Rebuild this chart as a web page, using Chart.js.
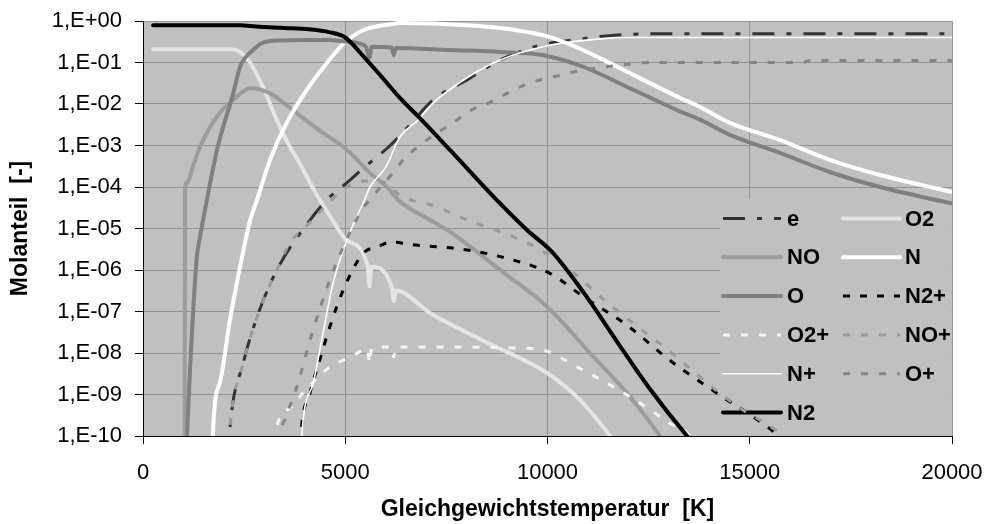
<!DOCTYPE html>
<html><head><meta charset="utf-8">
<script src="https://cdn.jsdelivr.net/npm/chart.js@4.4.0/dist/chart.umd.min.js"></script>
<style>html,body{margin:0;padding:0;background:#fff;}</style>
</head><body>
<canvas id="c" width="988" height="524"></canvas>
<script>
// ---- data (temperature K, mole fraction) ----
const xTicks = [0, 5000, 10000, 15000, 20000];
const yTicks = [1, 1e-1, 1e-2, 1e-3, 1e-4, 1e-5, 1e-6, 1e-7, 1e-8, 1e-9, 1e-10];
const yTickLabels = ['1,E+00','1,E-01','1,E-02','1,E-03','1,E-04','1,E-05','1,E-06','1,E-07','1,E-08','1,E-09','1,E-10'];
const xTitle = 'Gleichgewichtstemperatur  [K]';
const yTitle = 'Molanteil  [-]';

const e = [[2100,2.5e-11],[2150,1.6e-10],[2480,5.8e-9],[2820,7.4e-8],[3310,1.0e-6],[4130,1.6e-5],[4620,5.8e-5],[5040,1.26e-4],[5440,2.8e-4],[6110,1.0e-3],[6550,2.8e-3],[7170,1.26e-2],[8010,3.8e-2],[8830,1.15e-1],[9810,2.6e-1],[10630,3.5e-1],[11720,4.6e-1],[12530,4.9e-1],[20000,4.9e-1]];
const O2 = [[250,2.1e-1],[2200,2.1e-1],[2400,1.8e-1],[2650,1.0e-1],[2970,2.5e-2],[3310,4.1e-3],[3630,9.3e-4],[3800,5.0e-4],[4300,6.3e-5],[4620,2.0e-5],[5040,5.2e-6],[5550,1.3e-6],[5600,4.0e-7],[5650,1.2e-6],[6150,3.8e-7],[6200,1.8e-7],[6250,3.2e-7],[7100,9.1e-8],[8400,2.0e-8],[9990,3.3e-9],[10800,7.4e-10],[11550,1.0e-10],[12000,2.5e-11]];
const NO = [[1030,2.5e-11],[1040,1.0e-4],[1090,1.3e-4],[1240,3.2e-4],[1410,9.3e-4],[1830,5.0e-3],[2230,1.26e-2],[2650,2.4e-2],[3140,1.8e-2],[3800,6.0e-3],[4450,2.0e-3],[5040,7.9e-4],[5610,2.2e-4],[6030,1.0e-4],[6350,4.5e-5],[7100,1.6e-5],[7590,8.3e-6],[8830,1.0e-6],[9990,1.3e-7],[11050,1.0e-8],[11960,1.1e-9],[12780,1.0e-10],[13200,2.5e-11]];
const N = [[1720,2.5e-11],[1730,1.2e-10],[1900,1.9e-9],[2150,6.3e-8],[2400,1.2e-6],[2650,1.6e-5],[2820,4.9e-5],[3140,4.5e-4],[3550,3.5e-3],[4050,2.2e-2],[4550,9.8e-2],[4950,2.8e-1],[5440,6.0e-1],[6180,8.5e-1],[6350,8.9e-1],[8010,7.9e-1],[9240,6.0e-1],[10060,4.1e-1],[10880,2.0e-1],[11720,7.9e-2],[13280,1.4e-2],[13770,8.5e-3],[14510,3.5e-3],[15750,1.35e-3],[16980,4.5e-4],[18220,1.95e-4],[20000,7.6e-5]];
const O = [[1070,2.5e-11],[1090,1.0e-10],[1200,2.0e-8],[1330,2.0e-6],[1410,6.3e-6],[1580,4.9e-5],[1830,7.9e-4],[2230,1.8e-2],[2400,7.9e-2],[2720,2.0e-1],[2970,3.0e-1],[3400,3.4e-1],[4000,3.5e-1],[4600,3.5e-1],[5000,3.2e-1],[5500,2.5e-1],[5600,1.3e-1],[5650,2.4e-1],[6150,2.3e-1],[6200,1.5e-1],[6250,2.25e-1],[7590,2.0e-1],[8830,1.8e-1],[9900,1.5e-1],[10880,7.9e-2],[12120,2.2e-2],[13280,6.6e-3],[13770,4.2e-3],[14510,1.8e-3],[15750,6.6e-4],[16980,2.3e-4],[18220,1.0e-4],[20000,4.0e-5]];
const N2p = [[3870,2.5e-11],[3900,1.0e-10],[4130,1.1e-9],[4370,6.8e-9],[4620,4.3e-8],[4950,3.3e-7],[5440,2.5e-6],[5780,3.6e-6],[6180,4.8e-6],[6520,4.2e-6],[7840,3.2e-6],[8830,2.1e-6],[10060,8.3e-7],[10880,2.3e-7],[11960,4.7e-8],[12950,7.6e-9],[13350,3.9e-9],[14440,7.4e-10],[15180,2.5e-10],[15700,1.0e-10],[16000,4.0e-11]];
const O2p = [[3280,2.5e-11],[3310,1.6e-10],[3580,4.3e-10],[3960,1.1e-9],[4620,4.6e-9],[5120,7.9e-9],[5550,1.25e-8],[5600,5.6e-9],[5650,1.3e-8],[6150,1.4e-8],[6200,7.9e-9],[6250,1.4e-8],[9500,1.3e-8],[9990,1.1e-8],[10730,4.6e-9],[11550,1.7e-9],[12360,5.6e-10],[13030,2.0e-10],[13450,1.2e-10],[13800,4.0e-11]];
const NOp = [[2100,2.5e-11],[2150,1.6e-10],[2480,5.8e-9],[2820,7.4e-8],[3310,1.0e-6],[3630,4.4e-6],[4130,1.4e-5],[4620,4.5e-5],[5040,1.0e-4],[5500,1.4e-4],[6000,1.26e-4],[6350,6.3e-5],[7200,3.5e-5],[8130,1.45e-5],[9070,6.9e-6],[9890,2.8e-6],[10630,8.9e-7],[11300,2.3e-7],[12120,5.2e-8],[13030,1.07e-8],[14090,1.45e-9],[14820,4.3e-10],[15550,1.6e-10],[15800,1.0e-10],[16100,3.2e-11]];
const Np = [[3900,2.5e-11],[3930,1.2e-10],[4210,1.9e-9],[4450,3.0e-8],[4700,4.9e-7],[5040,5.2e-6],[5290,2.0e-5],[5440,4.0e-5],[5610,1.0e-4],[6000,3.0e-4],[6350,1.6e-3],[6800,4.1e-3],[7170,1.05e-2],[8010,4.3e-2],[8830,1.15e-1],[10060,2.6e-1],[11300,3.7e-1],[12120,4.0e-1],[20000,4.0e-1]];
const Op = [[3370,2.5e-11],[3400,1.0e-10],[3510,2.5e-10],[3800,1.5e-9],[4180,3.0e-8],[4620,5.8e-7],[4950,3.6e-6],[5410,2.8e-5],[5610,5.0e-5],[6180,2.2e-4],[6430,4.5e-4],[6800,9.3e-4],[7270,2.0e-3],[7700,3.7e-3],[8130,7.2e-3],[8580,1.1e-2],[9000,1.8e-2],[9440,2.9e-2],[9890,4.0e-2],[10350,5.0e-2],[10750,6.3e-2],[11220,7.4e-2],[11620,8.3e-2],[12040,9.1e-2],[12500,1.0e-1],[16300,1.0e-1],[16500,1.12e-1],[20000,1.12e-1]];
const N2 = [[250,7.9e-1],[2400,7.9e-1],[2800,7.4e-1],[3500,6.8e-1],[4100,6.3e-1],[4600,5.4e-1],[5000,4.0e-1],[5400,1.6e-1],[5900,4.5e-2],[6350,1.4e-2],[6850,4.5e-3],[7600,7.6e-4],[8700,5.4e-5],[9500,9.1e-6],[10100,2.8e-6],[10900,2.8e-7],[11700,2.0e-8],[12500,1.5e-9],[13450,1.0e-10],[14000,2.5e-11]];

const seriesNames = ['e','O2','NO','N','O','N2+','O2+','NO+','N+','O+','N2'];
const seriesData  = [e, O2, NO, N, O, N2p, O2p, NOp, Np, Op, N2];
const legendCols = [['e','NO','O','O2+','N+','N2'], ['O2','N','N2+','NO+','O+']];

// ---- styles ----
const styles = {
  'e':   {c:'#333333', w:3,   d:[22,12,5,12]},
  'O2':  {c:'#e4e4e4', w:4,   d:[]},
  'NO':  {c:'#9c9c9c', w:4,   d:[]},
  'N':   {c:'#ffffff', w:4,   d:[]},
  'O':   {c:'#808080', w:4,   d:[]},
  'N2+': {c:'#000000', w:3,   d:[7,10]},
  'O2+': {c:'#f4f4f4', w:3,   d:[7,11]},
  'NO+': {c:'#9a9a9a', w:3,   d:[7,11]},
  'N+':  {c:'#ffffff', w:1.6, d:[]},
  'O+':  {c:'#858585', w:3,   d:[7,11]},
  'N2':  {c:'#000000', w:4,   d:[]}
};
const FONT = '"Liberation Sans", Arial, sans-serif';

const datasets = seriesNames.map((name, i) => ({
  label: name,
  data: seriesData[i].map(p => ({x: p[0], y: p[1]})),
  borderColor: styles[name].c,
  backgroundColor: styles[name].c,
  borderWidth: styles[name].w,
  borderDash: styles[name].d,
  borderCapStyle: styles[name].d.length ? 'butt' : 'round',
  borderJoinStyle: 'round',
  pointRadius: 0,
  fill: false,
  cubicInterpolationMode: 'monotone',
  order: seriesNames.length - i
}));

const plotBg = {
  id: 'plotBg',
  beforeDraw(chart) {
    const a = chart.chartArea, ctx = chart.ctx;
    ctx.save(); ctx.fillStyle = '#c0c0c0';
    ctx.fillRect(a.left, a.top, a.right - a.left, a.bottom - a.top);
    ctx.restore();
  },
  beforeDatasetsDraw(chart) {
    const a = chart.chartArea, ctx = chart.ctx;
    ctx.save();
    // legend box (covers grid lines)
    ctx.fillStyle = '#c0c0c0';
    ctx.fillRect(720, 199, a.right - 720 - 0.5, a.bottom - 199 - 0.5);
    const colX = [[723, 781, 787], [843, 900, 905]];
    const rowY0 = 218.5, rowDy = 38.8;
    ctx.font = 'bold 22px ' + FONT;
    ctx.textBaseline = 'middle';
    ctx.textAlign = 'left';
    legendCols.forEach((col, ci) => {
      col.forEach((name, ri) => {
        const y = rowY0 + ri * rowDy;
        const s = styles[name];
        ctx.beginPath();
        ctx.strokeStyle = s.c; ctx.lineWidth = s.w; ctx.setLineDash(s.d);
        ctx.lineCap = s.d.length ? 'butt' : 'round';
        ctx.moveTo(colX[ci][0], y); ctx.lineTo(colX[ci][1], y); ctx.stroke();
        ctx.setLineDash([]);
        ctx.fillStyle = '#000';
        ctx.fillText(name, colX[ci][2], y + 1);
      });
    });
    ctx.restore();
  }
};

new Chart(document.getElementById('c'), {
  type: 'line',
  data: { datasets },
  plugins: [plotBg],
  options: {
    responsive: false,
    animation: false,
    devicePixelRatio: 1,
    layout: { autoPadding: false, padding: { top: 21, right: 36, left: 0, bottom: 0 } },
    plugins: { legend: { display: false }, tooltip: { enabled: false } },
    scales: {
      x: {
        type: 'linear', min: 0, max: 20000,
        afterBuildTicks(s) { s.ticks = xTicks.map(v => ({value: v})); },
        afterFit(s) { s.height = 88; s.paddingLeft = 0; s.paddingRight = 0; },
        grid: { color: '#939393', lineWidth: 1, tickColor: '#000', tickLength: 8 },
        border: { color: '#000', width: 1 },
        ticks: { color: '#000', font: { family: FONT, size: 22 }, padding: 16, maxRotation: 0,
                 callback: (v) => String(v) },
        title: { display: true, text: xTitle, color: '#000',
                 font: { family: FONT, size: 23, weight: 'bold' }, padding: { top: 0, bottom: 1 } }
      },
      y: {
        type: 'logarithmic', min: 1e-10, max: 1,
        afterBuildTicks(s) { s.ticks = yTicks.map(v => ({value: v, major: true})); },
        afterFit(s) { s.width = 143; s.paddingTop = 0; s.paddingBottom = 0; },
        grid: { color: '#939393', lineWidth: 1, tickColor: '#000', tickLength: 8 },
        border: { color: '#000', width: 1 },
        ticks: { color: '#000', font: { family: FONT, size: 22 }, padding: 13,
                 callback: (v, i) => yTickLabels[i] },
        title: { display: true, text: yTitle, color: '#000',
                 font: { family: FONT, size: 23, weight: 'bold' }, padding: { top: 7, bottom: 0 } }
      }
    }
  }
});
</script>
</body></html>
